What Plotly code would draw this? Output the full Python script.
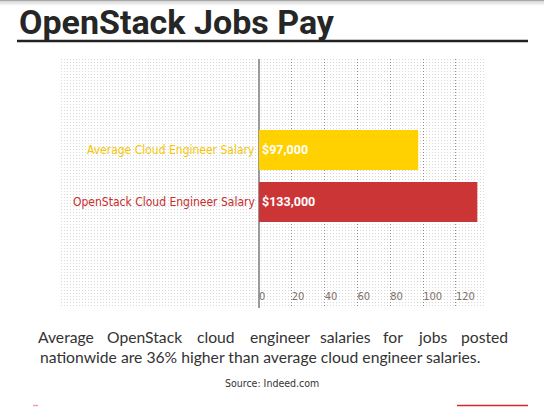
import plotly.graph_objects as go

# data
categories = ['OpenStack Cloud Engineer Salary', 'Average Cloud Engineer Salary']
salaries_k = [133, 97]
value_labels = ['$133,000', '$97,000']
bar_colors = ['#cc3535', '#ffd100']
label_colors = ['#cc2c2c', '#f7c600']
tick_vals = [0, 20, 40, 60, 80, 100, 120]

title_text = 'OpenStack Jobs Pay'
note_line1 = ['Average', 'OpenStack', 'cloud', 'engineer', 'salaries', 'for', 'jobs', 'posted']
note_line2 = 'nationwide are 36% higher than average cloud engineer salaries.'
source_text = 'Source: Indeed.com'

LABEL_FONT = 'DejaVu Sans Condensed, Roboto'
W, H = 544, 407
ML, MR, MT, MB = 60, 57, 59, 99
pw, ph = W - ML - MR, H - MT - MB


def px(x):
    # window pixel -> paper fraction
    return (x - ML) / pw


def py(y):
    return (H - MB - y) / ph


fig = go.Figure()

fig.add_trace(
    go.Bar(
        y=categories,
        x=salaries_k,
        orientation='h',
        width=0.77,
        marker=dict(color=bar_colors, line_width=0),
        text=value_labels,
        textposition='inside',
        insidetextanchor='start',
        textfont=dict(family='Roboto', size=12.5, color='white', weight='bold'),
        hoverinfo='skip',
    )
)

# category labels sit just left of the zero line, coloured like their bars
for cat, col in zip(categories, label_colors):
    fig.add_annotation(
        x=0, y=cat, xref='x', yref='y', text=cat, showarrow=False,
        xanchor='right', xshift=-2,
        font=dict(family=LABEL_FONT, size=12, color=col),
    )

fig.add_annotation(
    x=px(17), y=py(0), xref='paper', yref='paper', text='<b>' + title_text + '</b>',
    showarrow=False, xanchor='left', yanchor='top',
    font=dict(family='Roboto', size=34, color='#262626'),
)

fig.add_shape(type='line', xref='paper', yref='paper',
              x0=px(17), x1=px(528), y0=py(41), y1=py(41),
              line=dict(color='#222222', width=2.5))

# top edge shading
for i, c in enumerate(['#a8a8a8', '#cfcfcf', '#e6e6e6', '#f4f4f4']):
    fig.add_shape(type='rect', xref='paper', yref='paper', layer='below',
                  x0=px(0), x1=px(544), y0=py(i * 1.3), y1=py(i * 1.3 + 1.3),
                  line_width=0, fillcolor=c)

# justified first line of the note
word_centres = [65.5, 144.4, 215.8, 280.2, 345.6, 392.5, 432.4, 484.3]
for word, xc in zip(note_line1, word_centres):
    fig.add_annotation(
        x=px(xc), y=py(337), xref='paper', yref='paper',
        text=word, showarrow=False, xanchor='center', yanchor='middle',
        font=dict(family='Lato', size=15.7, color='#333333'),
    )

fig.add_annotation(
    x=px(38), y=py(357), xref='paper', yref='paper', text=note_line2,
    showarrow=False, xanchor='left', yanchor='middle',
    font=dict(family='Lato', size=15.7, color='#333333'),
)

fig.add_annotation(
    x=px(272), y=py(383), xref='paper', yref='paper', text=source_text,
    showarrow=False, xanchor='center', yanchor='middle',
    font=dict(family=LABEL_FONT, size=10.5, color='#333333'),
)

# bottom decorations
fig.add_shape(type='line', xref='paper', yref='paper',
              x0=px(457), x1=px(528), y0=py(405.5), y1=py(405.5),
              line=dict(color='#d2282e', width=1.5))
fig.add_shape(type='line', xref='paper', yref='paper',
              x0=px(33), x1=px(38), y0=py(405.5), y1=py(405.5),
              line=dict(color='#f0a0a0', width=1.5))

fig.update_layout(
    width=W,
    height=H,
    margin=dict(l=ML, r=MR, t=MT, b=MB, autoexpand=False),
    paper_bgcolor='white',
    plot_bgcolor='white',
    showlegend=False,
    xaxis=dict(
        range=[-121.2, 138.9],
        tickmode='array',
        tickvals=tick_vals,
        ticklabelposition='inside right',
        tickfont=dict(family=LABEL_FONT, size=11, color='#7b7068'),
        showgrid=True,
        gridcolor='#8a8a8a',
        griddash='1px,2px',
        gridwidth=1,
        zeroline=True,
        zerolinecolor='#9a9a9a',
        zerolinewidth=1.5,
        showline=False,
        ticks='',
        automargin=False,
        minor=dict(dtick=1.827, tick0=0, showgrid=True, gridcolor='#d8d8d8',
                   griddash='1px,2px', gridwidth=1),
        fixedrange=True,
    ),
    yaxis=dict(
        range=[-2.04, 2.75],
        showticklabels=False,
        showgrid=False,
        zeroline=False,
        ticks='',
        automargin=False,
        fixedrange=True,
    ),
)

# drop the default 8px page margin so the figure fills the window exactly
fig.write_html('out.html', config={'displayModeBar': False},
               post_script="document.body.style.margin='0';")
